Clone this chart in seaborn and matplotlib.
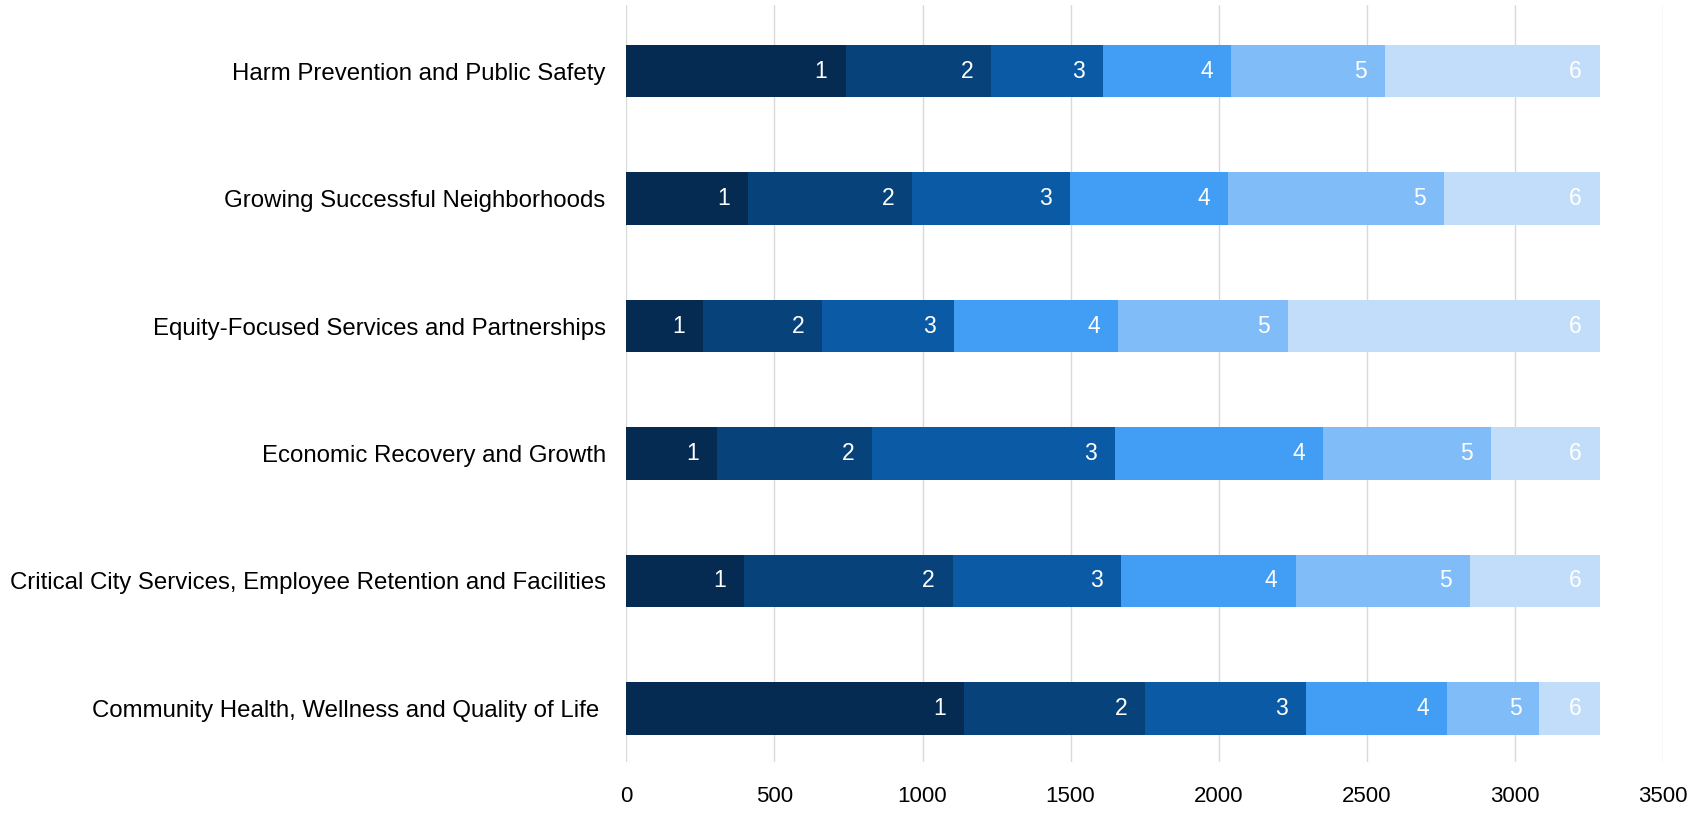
import numpy as np
import pandas as pd
import matplotlib
matplotlib.use('Agg')
import matplotlib.pyplot as plt
import seaborn as sns

# Categories (top to bottom) and the count for each rank 1..6
categories = ['Harm Prevention and Public Safety',
              'Growing Successful Neighborhoods',
              'Equity-Focused Services and Partnerships',
              'Economic Recovery and Growth',
              'Critical City Services, Employee Retention and Facilities',
              'Community Health, Wellness and Quality of Life ']
rank_labels = ['1', '2', '3', '4', '5', '6']
rank1 = [740, 411, 258, 306, 398, 1139]
rank2 = [493, 555, 403, 525, 704, 613]
rank3 = [377, 532, 445, 820, 568, 542]
rank4 = [433, 534, 556, 702, 590, 478]
rank5 = [518, 729, 572, 568, 590, 312]
rank6 = [728, 528, 1055, 368, 439, 205]
colors = ['#062b53', '#07437a', '#0b5aa6', '#429df5', '#80bcf8', '#c1ddf9']
xticks = [0, 500, 1000, 1500, 2000, 2500, 3000, 3500]

sns.set_style('whitegrid')
plt.rcParams['font.family'] = ['Liberation Sans', 'DejaVu Sans']

fig = plt.figure(figsize=(17.07, 8.14), dpi=100)
ax = fig.add_axes([0.367, 0.064, 0.607, 0.930])

ranks = np.array([rank1, rank2, rank3, rank4, rank5, rank6])
cum = ranks.cumsum(axis=0)

# draw cumulative bars from the longest to the shortest so they stack visually
for i in reversed(range(len(rank_labels))):
    df = pd.DataFrame({'cat': categories, 'val': cum[i]})
    sns.barplot(data=df, x='val', y='cat', orient='h', color=colors[i],
                saturation=1, width=0.41, linewidth=0, ax=ax)
    texts = ax.bar_label(ax.containers[-1], labels=[rank_labels[i]] * len(categories),
                         label_type='edge', padding=-13, color='white', fontsize=16.5)
    for t in texts:
        t.set_ha('right')

ax.set_xlim(0, 3500)
ax.set_ylim(5.42, -0.52)
ax.set_xticks(xticks)
ax.set_xlabel('')
ax.set_ylabel('')
ax.grid(axis='x', color='#d9d9d9', linewidth=1)
ax.grid(axis='y', visible=False)
ax.set_axisbelow(True)
for s in ax.spines.values():
    s.set_visible(False)
ax.tick_params(axis='x', length=0, pad=17, labelsize=16, labelcolor='black')
ax.tick_params(axis='y', length=0, pad=15, labelsize=17.3, labelcolor='black')

fig.savefig('out.png', dpi=100)
